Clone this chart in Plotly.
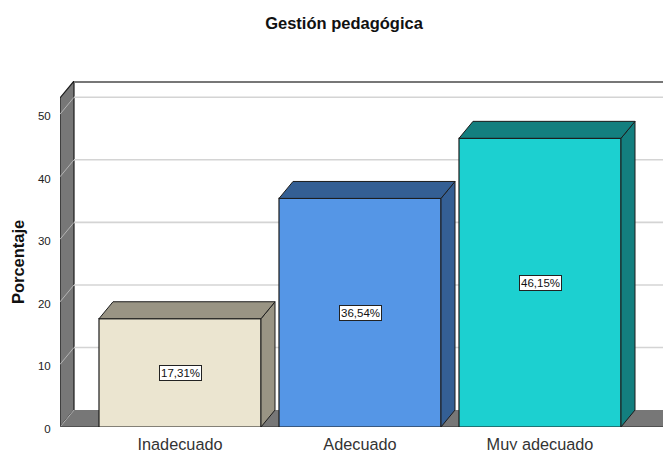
import plotly.graph_objects as go

categories = ["Inadecuado", "Adecuado", "Muy adecuado"]
values = [17.31, 36.54, 46.15]
value_labels = ["17,31%", "36,54%", "46,15%"]
front_colors = ["#ebe5d0", "#5596e6", "#1cd0d0"]
side_colors = ["#999484", "#345f94", "#137f7f"]
y_ticks = [0, 10, 20, 30, 40, 50]

WIDTH, HEIGHT = 663, 450
L, R, T, B = 60, 0, 80.5, 22.7
PX_PER_CAT = 180.0
PX_PER_UNIT = 6.27
X0 = -(180 - 60) / PX_PER_CAT
X1 = X0 + (WIDTH - L - R) / PX_PER_CAT
PLOT_H = HEIGHT - B - T
Y1 = PLOT_H / PX_PER_UNIT
DX = 14 / PX_PER_CAT
DY = 17 / PX_PER_UNIT
BAR_W = 0.9
TOP = Y1 - DY
GREY = "#777777"
EDGE = "#1c1c1c"
GRID = "#d4d4d4"
SLANT = "#b4b4b4"

fig = go.Figure()
pos = list(range(len(categories)))

fig.add_trace(go.Bar(
    x=pos, y=values, width=BAR_W, marker=dict(color=front_colors, line=dict(color=EDGE, width=1.2)),
    hoverinfo="skip", showlegend=False))

for i, (v, side) in enumerate(zip(values, side_colors)):
    left, right = i - BAR_W / 2, i + BAR_W / 2
    fig.add_trace(go.Scatter(
        x=[right, right + DX, right + DX, right, right],
        y=[0, DY, v + DY, v, 0], mode="lines", fill="toself", fillcolor=side,
        line=dict(color=EDGE, width=1), hoverinfo="skip", showlegend=False))
    fig.add_trace(go.Scatter(
        x=[left, left + DX, right + DX, right, left],
        y=[v, v + DY, v + DY, v, v], mode="lines", fill="toself", fillcolor=side,
        line=dict(color=EDGE, width=1), hoverinfo="skip", showlegend=False))

shapes = []
def poly(xs, ys, fill=None, color=None, width=1):
    path = "M " + " L ".join(f"{x},{y}" for x, y in zip(xs, ys))
    if fill:
        path += " Z"
    shapes.append(dict(type="path", path=path, xref="x", yref="y", layer="below",
                       fillcolor=fill or "rgba(0,0,0,0)",
                       line=dict(color=color or "rgba(0,0,0,0)", width=width if color else 0)))

poly([X0, X0 + DX, X0 + DX, X0], [0, DY, TOP + DY, TOP], fill=GREY, color=EDGE, width=1.2)
poly([X0, X1, X1, X0 + DX], [0, 0, DY, DY], fill=GREY)
for t in y_ticks[1:]:
    poly([X0 + DX, X1], [t + DY, t + DY], color=GRID, width=1.6)
    poly([X0, X0 + DX], [t, t + DY], color=SLANT, width=1)
poly([X0, X0 + DX], [0, DY], color=SLANT, width=1)
poly([X0 + DX, X1], [Y1 - 0.1, Y1 - 0.1], color=GREY, width=2.5)
poly([X0, X1], [0, 0], color="#444444", width=1.5)

annotations = [
    dict(x=i, y=v / 2, xref="x", yref="y", text=lab, showarrow=False,
         font=dict(family="Liberation Sans", size=11.5, color="#111111"),
         bgcolor="#ffffff", bordercolor="#222222", borderwidth=1, borderpad=1)
    for i, (v, lab) in enumerate(zip(values, value_labels))
]
annotations.append(dict(
    x=(18 - L) / (WIDTH - L - R), y=(HEIGHT - B - 262) / PLOT_H, xref="paper", yref="paper",
    xanchor="center", yanchor="middle",
    text="<b>Porcentaje</b>", textangle=-90, showarrow=False,
    font=dict(family="Liberation Sans", size=16.5, color="#111111")))

fig.update_layout(
    width=WIDTH, height=HEIGHT, margin=dict(l=L, r=R, t=T, b=B, pad=0),
    paper_bgcolor="#ffffff", plot_bgcolor="#ffffff", showlegend=False,
    font=dict(family="Liberation Sans", color="#111111"),
    title=dict(text="<b>Gestión pedagógica</b>", x=344 / WIDTH, xanchor="center",
               y=1 - 23 / HEIGHT, yanchor="middle", font=dict(size=16.5, color="#111111")),
    xaxis=dict(range=[X0, X1], tickvals=pos, ticktext=categories, showgrid=False, zeroline=False,
               showline=False, ticks="outside", ticklen=2, tickcolor="rgba(0,0,0,0)",
               tickfont=dict(size=16.3, color="#333333"), fixedrange=True, automargin=False),
    yaxis=dict(range=[0, Y1], tickvals=y_ticks, showgrid=False, zeroline=False, showline=False,
               ticks="outside", ticklen=6, tickcolor="rgba(0,0,0,0)", ticklabelshift=2,
               tickfont=dict(size=11.5, color="#222222"), fixedrange=True, automargin=False),
    shapes=shapes, annotations=annotations,
)

fig.write_html("out.html", config={"displayModeBar": False},
               post_script="document.body.style.margin='0';document.documentElement.style.overflow='hidden';")
